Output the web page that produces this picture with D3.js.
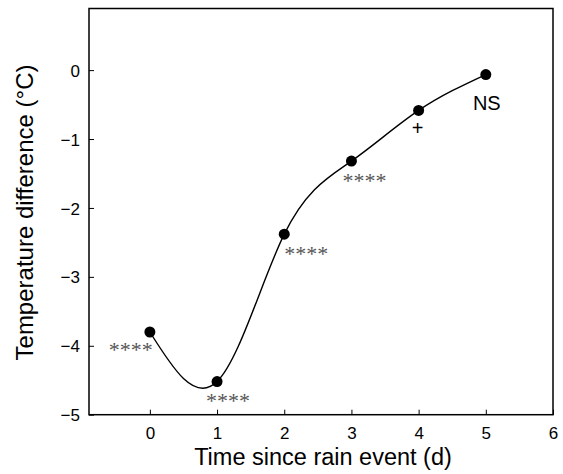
<!DOCTYPE html>
<html><head><meta charset="utf-8">
<script src="https://cdn.jsdelivr.net/npm/d3@7"></script>
<style>body{margin:0;background:#fff}svg{display:block}</style>
</head><body><svg id="c" width="563" height="474"></svg>
<script>
const days = [0, 1, 2, 3, 4, 5];
const tempDiff = [-3.80, -4.52, -2.38, -1.32, -0.585, -0.064];
const sigLabels = ["****", "****", "****", "****", "+", "NS"];
const xTicks = [0, 1, 2, 3, 4, 5, 6];
const yTicks = [0, -1, -2, -3, -4, -5];

const svg = d3.select("#c");
const L = 89, R = 553, T = 8.5, B = 414.7;
const x = d3.scaleLinear().domain([-0.906, 6]).range([L, R]);
const y = d3.scaleLinear().domain([-5, 0.894]).range([B, T]);

const fmt = d => d < 0 ? "\u2212" + Math.abs(d) : String(d);

const xAxis = svg.append("g").attr("transform", `translate(0,${B})`)
  .call(d3.axisBottom(x).tickValues(xTicks).tickSizeInner(-5).tickSizeOuter(0).tickPadding(12).tickFormat(fmt));
const yAxis = svg.append("g").attr("transform", `translate(${L},0)`)
  .call(d3.axisLeft(y).tickValues(yTicks).tickSizeInner(-5).tickSizeOuter(0).tickPadding(9).tickFormat(fmt));
[xAxis, yAxis].forEach(g => {
  g.select(".domain").remove();
  g.selectAll("line").attr("stroke", "#000").attr("stroke-width", 1);
  g.selectAll("text").attr("font-family", "Liberation Sans, Arial, sans-serif").attr("font-size", 17).attr("fill", "#000");
});
yAxis.selectAll("text").attr("dy", "0.36em");

svg.append("rect").attr("x", L).attr("y", T).attr("width", R - L).attr("height", B - T)
  .attr("fill", "none").attr("stroke", "#000").attr("stroke-width", 1.5);

const pts = days.map((d, i) => [d, tempDiff[i]]);
svg.append("path").datum(pts)
  .attr("d", d3.line().x(d => x(d[0])).y(d => y(d[1])).curve(d3.curveNatural))
  .attr("fill", "none").attr("stroke", "#000").attr("stroke-width", 1.4);

svg.selectAll("circle.pt").data(pts).join("circle")
  .attr("cx", d => x(d[0])).attr("cy", d => y(d[1])).attr("r", 5.5).attr("fill", "#000");

// annotation placement relative to each point
const place = [
  {dx: 3, dy: 25, anchor: "end"},
  {dx: -11, dy: 26, anchor: "start"},
  {dx: 0, dy: 27, anchor: "start"},
  {dx: -9, dy: 27, anchor: "start"},
  {dx: -1, dy: 25, anchor: "middle"},
  {dx: 1, dy: 35, anchor: "middle"}
];
svg.selectAll("text.sig").data(pts).join("text")
  .attr("class", "sig")
  .attr("x", (d, i) => x(d[0]) + place[i].dx)
  .attr("y", (d, i) => y(d[1]) + place[i].dy)
  .attr("text-anchor", (d, i) => place[i].anchor)
  .attr("font-family", (d, i) => sigLabels[i] === "****" ? "Liberation Serif, Times New Roman, serif" : "Liberation Sans, Arial, sans-serif")
  .attr("font-size", (d, i) => sigLabels[i] === "****" ? 22 : 20)
  .attr("fill", (d, i) => sigLabels[i] === "****" ? "#555" : "#000")
  .text((d, i) => sigLabels[i]);

svg.append("text").attr("x", 323).attr("y", 465).attr("text-anchor", "middle")
  .attr("font-family", "Liberation Sans, Arial, sans-serif").attr("font-size", 23.5).text("Time since rain event (d)");
svg.append("text").attr("transform", `translate(32.5,212.5) rotate(-90)`).attr("text-anchor", "middle")
  .attr("font-family", "Liberation Sans, Arial, sans-serif").attr("font-size", 24).text("Temperature difference (\u00B0C)");
</script></body></html>
